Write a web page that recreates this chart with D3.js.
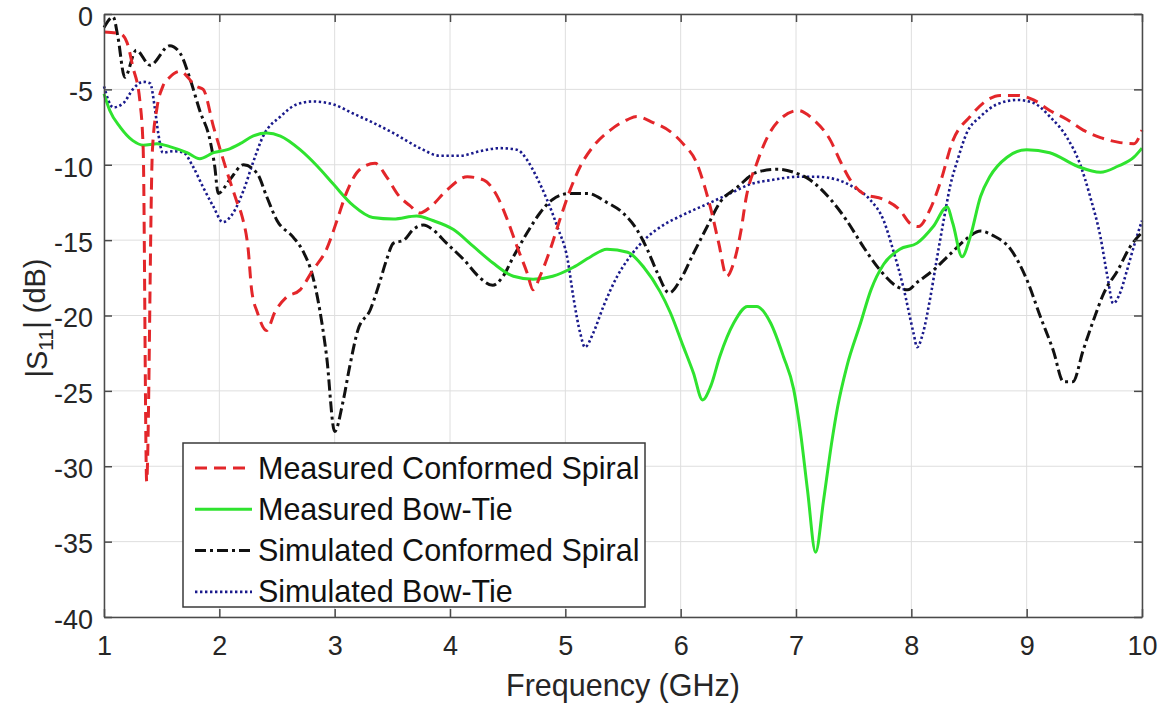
<!DOCTYPE html>
<html>
<head>
<meta charset="utf-8">
<script src="https://cdn.jsdelivr.net/npm/d3@7"></script>
<style>
  html, body { margin: 0; padding: 0; background: #fff; }
  svg { display: block; font-family: "Liberation Sans", Arial, Helvetica, sans-serif; }
</style>
</head>
<body>
<svg id="chart" width="1167" height="710"></svg>
<script>
// Return loss |S11| (dB) versus frequency (GHz) for the four antenna cases

const xTicks = [1, 2, 3, 4, 5, 6, 7, 8, 9, 10];
const yTicks = [0, -5, -10, -15, -20, -25, -30, -35, -40];

const seriesNames = [
  "Measured Conformed Spiral",
  "Measured Bow-Tie",
  "Simulated Conformed Spiral",
  "Simulated Bow-Tie"
];

// Measured conformed spiral
const measSpiralFreq = [1.0, 1.14, 1.2, 1.25, 1.31, 1.34, 1.37, 1.42, 1.46, 1.51, 1.57, 1.66, 1.8, 1.86, 1.95, 2.0, 2.08, 2.15, 2.2, 2.25, 2.28, 2.33, 2.41, 2.48, 2.58, 2.7, 2.81, 2.93, 3.02, 3.1, 3.22, 3.35, 3.45, 3.55, 3.65, 3.74, 3.83, 3.97, 4.15, 4.29, 4.41, 4.5, 4.58, 4.67, 4.72, 4.78, 4.87, 4.95, 5.04, 5.13, 5.24, 5.39, 5.54, 5.62, 5.76, 5.91, 6.02, 6.14, 6.21, 6.27, 6.33, 6.4, 6.46, 6.52, 6.57, 6.66, 6.75, 6.89, 7.02, 7.15, 7.3, 7.38, 7.47, 7.58, 7.76, 7.9, 7.99, 8.06, 8.16, 8.25, 8.36, 8.51, 8.66, 8.77, 8.92, 9.06, 9.2, 9.35, 9.49, 9.64, 9.79, 9.93, 10.0];
const measSpiralDb = [-1.2, -1.3, -1.9, -3.5, -5.7, -9, -31, -9, -6.2, -4.8, -4.2, -3.8, -4.8, -5, -7.5, -8.8, -10.8, -12.4, -13.5, -15.6, -18.3, -19.8, -21, -19.8, -18.8, -18.3, -17, -15.6, -13.7, -11.9, -10.3, -9.9, -10.8, -12, -12.7, -13.2, -12.8, -11.7, -10.8, -11, -12.1, -13.7, -15.4, -17.2, -18.3, -17.4, -15.6, -13.7, -11.7, -10.1, -8.8, -7.7, -7, -6.8, -7.2, -7.8, -8.6, -9.9, -11.5, -13.2, -15.2, -17.4, -16.5, -14.5, -12.1, -9.9, -8.2, -6.8, -6.4, -7, -8.4, -9.7, -11, -11.9, -12.3, -13, -13.9, -14.1, -13, -11.2, -8.4, -6.8, -5.7, -5.4, -5.4, -5.7, -6.4, -7, -7.7, -8.2, -8.5, -8.6, -7.7];

// Measured bow-tie
const measBowFreq = [1.0, 1.05, 1.14, 1.25, 1.34, 1.46, 1.57, 1.72, 1.83, 1.95, 2.07, 2.18, 2.29, 2.41, 2.53, 2.7, 2.85, 2.99, 3.16, 3.33, 3.51, 3.71, 3.85, 4.03, 4.2, 4.37, 4.55, 4.72, 4.89, 5.07, 5.22, 5.36, 5.54, 5.68, 5.82, 5.91, 6.02, 6.11, 6.19, 6.26, 6.34, 6.46, 6.58, 6.66, 6.78, 6.89, 6.98, 7.04, 7.1, 7.17, 7.24, 7.31, 7.36, 7.44, 7.56, 7.65, 7.76, 7.9, 8.05, 8.19, 8.31, 8.36, 8.44, 8.51, 8.6, 8.68, 8.83, 9.0, 9.2, 9.44, 9.64, 9.79, 9.93, 10.0];
const measBowDb = [-5.3, -6.4, -7.5, -8.4, -8.7, -8.6, -8.8, -9.2, -9.6, -9.2, -9, -8.6, -8.1, -7.9, -8.1, -9, -10.1, -11.3, -12.7, -13.5, -13.6, -13.4, -13.7, -14.3, -15.4, -16.5, -17.4, -17.6, -17.4, -16.8, -16.1, -15.6, -15.8, -16.8, -18.4, -19.8, -22, -23.8, -25.6, -24.7, -22.7, -20.5, -19.4, -19.4, -20.5, -22.7, -24.9, -27.8, -31.6, -35.7, -32.2, -28.4, -26.1, -23.4, -20.5, -18.3, -16.6, -15.6, -15.2, -14.1, -12.8, -13.9, -16.1, -14.8, -12.1, -10.8, -9.5, -9, -9.2, -10.1, -10.5, -10.1, -9.5, -8.9];

// Simulated conformed spiral
const simSpiralFreq = [1.0, 1.08, 1.12, 1.18, 1.28, 1.4, 1.57, 1.66, 1.75, 1.83, 1.92, 1.96, 1.99, 2.09, 2.21, 2.33, 2.41, 2.5, 2.64, 2.73, 2.81, 2.87, 2.93, 3.0, 3.07, 3.13, 3.2, 3.31, 3.39, 3.45, 3.51, 3.6, 3.68, 3.77, 3.85, 3.97, 4.12, 4.26, 4.37, 4.46, 4.55, 4.67, 4.78, 4.89, 5.04, 5.19, 5.36, 5.5, 5.62, 5.71, 5.8, 5.9, 6.0, 6.11, 6.23, 6.34, 6.49, 6.66, 6.84, 6.98, 7.12, 7.3, 7.44, 7.58, 7.73, 7.88, 7.97, 8.05, 8.19, 8.34, 8.48, 8.6, 8.71, 8.86, 9.0, 9.12, 9.23, 9.32, 9.4, 9.49, 9.58, 9.67, 9.79, 9.9, 10.0];
const simSpiralDb = [-0.9, -0.2, -1.5, -4.2, -2.4, -3.4, -2.1, -2.6, -4.4, -6.4, -8.4, -10.1, -11.9, -11, -10, -10.6, -12.1, -13.7, -14.8, -15.8, -17.4, -19.6, -22.7, -27.7, -25.8, -23.4, -21, -19.6, -17.8, -16.3, -15.2, -15, -14.3, -14, -14.3, -15.2, -16.3, -17.5, -18, -17.4, -16.1, -14.5, -13.2, -12.3, -11.9, -11.9, -12.5, -13.2, -14.3, -15.6, -17.2, -18.5, -17.6, -15.9, -14.1, -12.5, -11.5, -10.5, -10.3, -10.5, -11, -12.3, -13.7, -15.4, -17, -18.1, -18.3, -17.8, -17, -15.9, -14.9, -14.4, -14.7, -15.6, -17.6, -20.1, -22.3, -24.4, -24.4, -22.3, -20.3, -18.5, -17, -15.4, -14.5];

// Simulated bow-tie
const simBowFreq = [1.0, 1.08, 1.17, 1.25, 1.34, 1.4, 1.44, 1.47, 1.51, 1.6, 1.69, 1.77, 1.86, 1.95, 2.03, 2.12, 2.21, 2.29, 2.38, 2.53, 2.67, 2.81, 2.99, 3.16, 3.33, 3.51, 3.74, 3.91, 4.09, 4.26, 4.43, 4.58, 4.67, 4.75, 4.84, 4.93, 5.02, 5.07, 5.13, 5.17, 5.24, 5.33, 5.45, 5.56, 5.71, 5.85, 6.0, 6.26, 6.43, 6.6, 6.8, 7.01, 7.18, 7.36, 7.5, 7.64, 7.76, 7.84, 7.93, 8.02, 8.05, 8.1, 8.16, 8.22, 8.28, 8.34, 8.4, 8.48, 8.6, 8.74, 8.92, 9.06, 9.2, 9.35, 9.46, 9.55, 9.64, 9.7, 9.75, 9.81, 9.87, 9.93, 10.0];
const simBowDb = [-4.8, -6.2, -5.9, -5, -4.5, -4.6, -6.2, -7.9, -9.2, -9.1, -9.2, -10.1, -11.5, -12.8, -13.8, -13.2, -11.7, -9.9, -8.1, -6.8, -6, -5.8, -6, -6.6, -7.2, -7.9, -8.9, -9.4, -9.4, -9.1, -8.9, -9, -9.7, -10.8, -12.3, -14.1, -16.3, -18.8, -21.2, -22.1, -21.2, -19.4, -17.4, -16.1, -14.8, -14, -13.4, -12.5, -11.9, -11.3, -11, -10.8, -10.8, -11, -11.5, -12.3, -13.7, -15.6, -18.1, -21.2, -22.1, -21.2, -19, -16.3, -13.7, -11.3, -9.7, -7.9, -6.8, -6, -5.7, -5.9, -6.8, -8.2, -9.9, -12.1, -14.8, -17.4, -19.2, -18.5, -17, -15.4, -13.7];

const svg = d3.select("#chart");
const plotLeft = 104, plotRight = 1142, plotTop = 14, plotBottom = 617;

const x = d3.scaleLinear().domain([1, 10]).range([plotLeft, plotRight]);
const y = d3.scaleLinear().domain([-40, 0]).range([plotBottom, plotTop]);

const axisColor = "#4a4a4a";
const textColor = "#262626";
const plainNumber = d => String(d);

// grid
const grid = svg.append("g");
grid.selectAll("line.vx").data(xTicks).join("line")
  .attr("x1", d => x(d)).attr("x2", d => x(d))
  .attr("y1", plotTop).attr("y2", plotBottom)
  .attr("stroke", "#dedede").attr("stroke-width", 1);
grid.selectAll("line.hy").data(yTicks).join("line")
  .attr("x1", plotLeft).attr("x2", plotRight)
  .attr("y1", d => y(d)).attr("y2", d => y(d))
  .attr("stroke", "#dedede").attr("stroke-width", 1);

// series
const series = [
  { name: seriesNames[0], f: measSpiralFreq, v: measSpiralDb, color: "#e3262a", width: 3, dash: "12,7" },
  { name: seriesNames[1], f: measBowFreq, v: measBowDb, color: "#2fe32f", width: 3, dash: null },
  { name: seriesNames[2], f: simSpiralFreq, v: simSpiralDb, color: "#111111", width: 3, dash: "11,4,3,4" },
  { name: seriesNames[3], f: simBowFreq, v: simBowDb, color: "#1a1a8c", width: 2.6, dash: "2.4,2.6" }
];

const plot = svg.append("g");
const drawOrder = [3, 2, 1, 0];
drawOrder.forEach(i => {
  const s = series[i];
  const pts = s.f.map((f, k) => [f, s.v[k]]);
  const line = d3.line().x(d => x(d[0])).y(d => y(d[1])).curve(d3.curveMonotoneX);
  plot.append("path")
    .attr("d", line(pts))
    .attr("fill", "none")
    .attr("stroke", s.color)
    .attr("stroke-width", s.width)
    .attr("stroke-dasharray", s.dash)
    .attr("stroke-linejoin", "round");
});

// axes with inward ticks on all four sides
function styleAxis(g) {
  g.select(".domain").attr("stroke", axisColor).attr("stroke-width", 1.5);
  g.selectAll(".tick line").attr("stroke", axisColor).attr("stroke-width", 1.5);
  g.selectAll("text").attr("fill", textColor)
    .style("font-size", "27px").style("font-family", "'Liberation Sans', Arial, sans-serif");
}

svg.append("g").attr("transform", `translate(0,${plotBottom})`)
  .call(d3.axisBottom(x).tickValues(xTicks).tickFormat(plainNumber).tickSize(-8).tickPadding(19).tickSizeOuter(0))
  .call(styleAxis);
svg.append("g").attr("transform", `translate(0,${plotTop})`)
  .call(d3.axisTop(x).tickValues(xTicks).tickSize(-8).tickFormat("").tickSizeOuter(0))
  .call(styleAxis);
svg.append("g").attr("transform", `translate(${plotLeft},0)`)
  .call(d3.axisLeft(y).tickValues(yTicks).tickFormat(plainNumber).tickSize(-8).tickPadding(11).tickSizeOuter(0))
  .call(styleAxis)
  .selectAll("text").attr("dy", "0.42em");
svg.append("g").attr("transform", `translate(${plotRight},0)`)
  .call(d3.axisRight(y).tickValues(yTicks).tickSize(-8).tickFormat("").tickSizeOuter(0))
  .call(styleAxis);

// axis titles
svg.append("text")
  .attr("x", (plotLeft + plotRight) / 2).attr("y", 696)
  .attr("text-anchor", "middle")
  .attr("fill", textColor)
  .style("font-size", "30.5px")
  .text("Frequency (GHz)");

const yl = svg.append("text")
  .attr("transform", "translate(47,318) rotate(-90)")
  .attr("text-anchor", "middle")
  .attr("fill", textColor)
  .style("font-size", "29px");
yl.append("tspan").text("|S");
yl.append("tspan").attr("dy", "0.3em").style("font-size", "21px").text("11");
yl.append("tspan").attr("dy", "-0.3em").text("| (dB)");

// legend
const legend = svg.append("g");
legend.append("rect")
  .attr("x", 183).attr("y", 443).attr("width", 462).attr("height", 164)
  .attr("fill", "#fff").attr("stroke", "#3a3a3a").attr("stroke-width", 1.5);
series.forEach((s, i) => {
  const cy = 468 + i * 41.3;
  legend.append("line")
    .attr("x1", 195).attr("x2", 252).attr("y1", cy).attr("y2", cy)
    .attr("stroke", s.color).attr("stroke-width", s.width)
    .attr("stroke-dasharray", s.dash);
  legend.append("text")
    .attr("x", 258).attr("y", cy + 10.5)
    .attr("fill", "#111")
    .style("font-size", "30.5px")
    .text(s.name);
});
</script>
</body>
</html>
